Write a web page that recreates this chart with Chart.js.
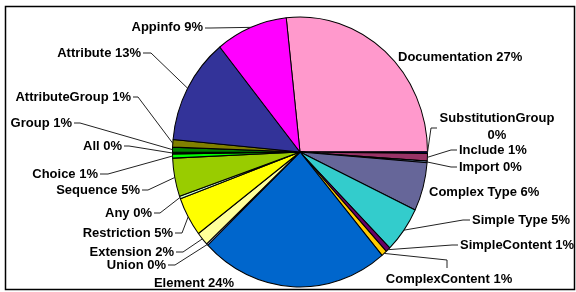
<!DOCTYPE html>
<html>
<head>
<meta charset="utf-8">
<script src="https://cdn.jsdelivr.net/npm/chart.js@4/dist/chart.umd.min.js"></script>
<style>
html,body{margin:0;padding:0;background:#fff;}
canvas{display:block;}
</style>
</head>
<body>
<canvas id="c" width="576" height="292"></canvas>
<script>
// ---- data ----
const categories = ["Documentation","SubstitutionGroup","Include","Import","Complex Type","Simple Type","SimpleContent","ComplexContent","Element","Union","Extension","Restriction","Any","Sequence","Choice","All","Group","AttributeGroup","Attribute","Appinfo"];
const values = [26.7,0.2,0.9,0.2,5.8,5.5,0.6,0.7,24.0,0.2,1.6,4.7,0.3,4.6,0.5,0.2,0.6,0.9,12.7,9.1];
const pctLabels = [27,0,1,0,6,5,1,1,24,0,2,5,0,5,1,0,1,1,13,9];
const colors = ["#FF99CC","#000080","#993366","#99CCFF","#666699","#33CCCC","#660066","#FFCC00","#0066CC","#CCCCFF","#FFFF99","#FFFF00","#CCFFCC","#99CC00","#00FF00","#003300","#008000","#808000","#333399","#FF00FF"];

// ---- layout (label anchors & leader elbows) ----
// [x, y, align, leaderType, startX, startY, elbowX, elbowY]
const labelLayout = [
  [398,57,"left","none"],
  [497,118,"center2","h",437,128,431,128],
  [459,150,"left","h",457,150,451,150],
  [459,167,"left","h",457,167,451,167],
  [429,192,"left","none"],
  [472,220,"left","h",470,220,463,220],
  [460,245,"left","h",458,245,452,245],
  [449,279,"center","h",447,268,447,260],
  [194,283,"center","none"],
  [166,265,"right","h",168,265,175,265],
  [174,252,"right","h",176,252,183,252],
  [173,233,"right","h",175,233,182,233],
  [152,213,"right","h",154,213,160,213],
  [140,190,"right","h",142,190,148,190],
  [98,174,"right","h",100,174,108,174],
  [122,146,"right","h",124,146,129,146],
  [72,123,"right","h",74,123,80,123],
  [131,97,"right","h",133,97,138,97],
  [141,53,"right","h",143,53,151,53],
  [203,27,"right","h",205,28,211,28]
];
const SY = 135/127.5;
const FONT = 'bold 13px "Liberation Sans", Arial, sans-serif';

const ellipsePlugin = {
  id: 'ellipse',
  beforeDatasetsDraw(chart) {
    const a = chart.getDatasetMeta(0).data[0];
    const ctx = chart.ctx;
    ctx.save();
    ctx.translate(a.x, a.y);
    ctx.scale(1, SY);
    ctx.translate(-a.x, -a.y);
  },
  afterDatasetsDraw(chart) {
    chart.ctx.restore();
  },
  afterDraw(chart) {
    const ctx = chart.ctx;
    const arcs = chart.getDatasetMeta(0).data;
    ctx.save();
    // frame
    ctx.strokeStyle = "#000";
    ctx.lineWidth = 1.5;
    ctx.strokeRect(5.5, 6.5, 569, 283);
    // leaders
    ctx.lineWidth = 1;
    ctx.strokeStyle = "#222";
    arcs.forEach((a, i) => {
      const L = labelLayout[i];
      if (L[3] === "none") return;
      const mid = (a.startAngle + a.endAngle) / 2;
      const ex = a.x + a.outerRadius * Math.cos(mid);
      const ey = a.y + a.outerRadius * Math.sin(mid) * SY;
      ctx.beginPath();
      ctx.moveTo(L[4], L[5]);
      ctx.lineTo(L[6], L[7]);
      ctx.lineTo(ex, ey);
      ctx.stroke();
    });
    // labels
    ctx.fillStyle = "#000";
    ctx.font = FONT;
    ctx.textBaseline = "middle";
    categories.forEach((c, i) => {
      const L = labelLayout[i];
      const txt = c + " " + pctLabels[i] + "%";
      if (L[2] === "center2") {
        ctx.textAlign = "center";
        ctx.fillText(c, L[0], L[1]);
        ctx.fillText(pctLabels[i] + "%", L[0], L[1] + 17);
      } else {
        ctx.textAlign = L[2];
        ctx.fillText(txt, L[0], L[1]);
      }
    });
    ctx.restore();
  }
};

new Chart(document.getElementById('c'), {
  type: 'pie',
  data: {
    labels: categories,
    datasets: [{
      data: values,
      backgroundColor: colors,
      borderColor: "#000",
      borderWidth: 1,
      clip: false
    }]
  },
  options: {
    responsive: false,
    animation: false,
    rotation: -6.2,
    layout: { padding: { left: 172, right: 148, top: 24, bottom: 12 } },
    plugins: { legend: { display: false }, tooltip: { enabled: false } }
  },
  plugins: [ellipsePlugin]
});
</script>
</body>
</html>
